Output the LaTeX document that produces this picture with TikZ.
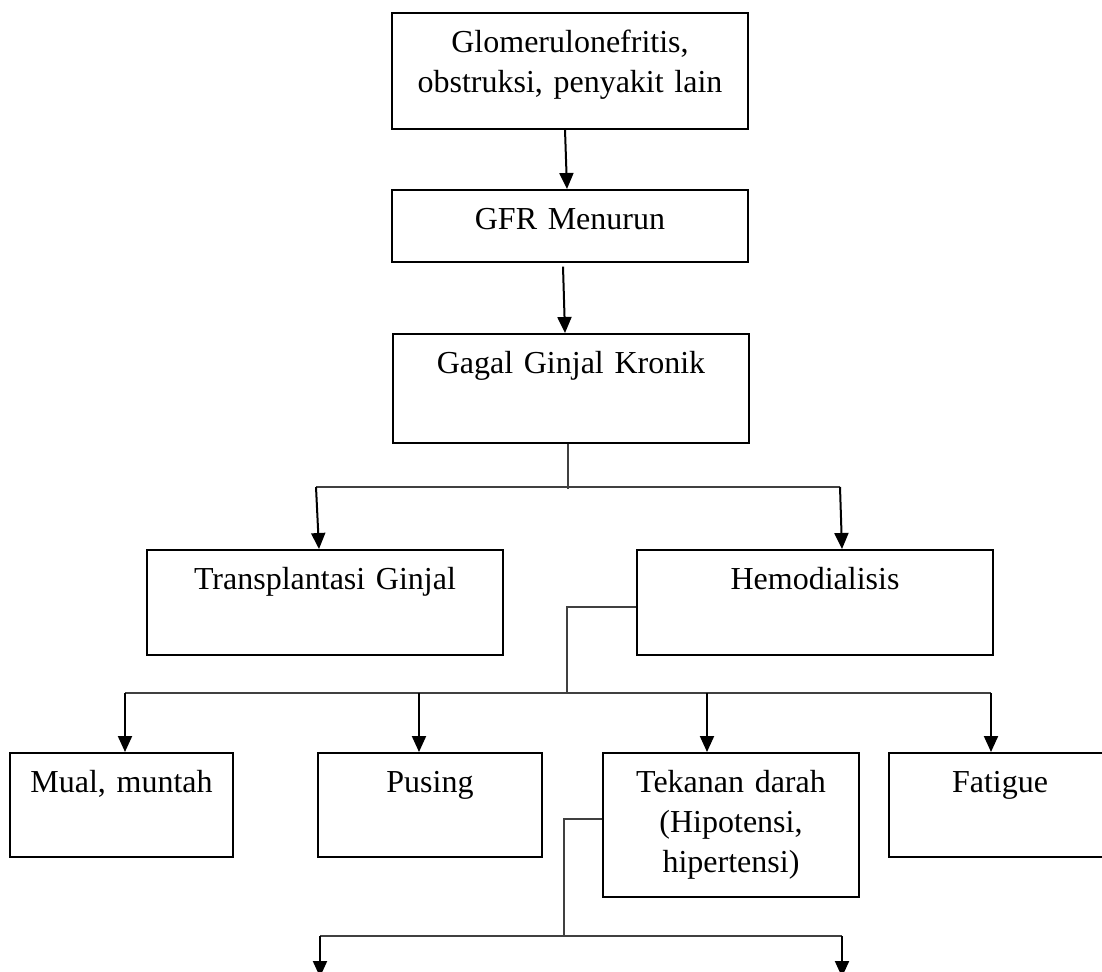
\documentclass[tikz,border=0pt]{standalone}
\usepackage{fontspec}
\setmainfont{Liberation Serif}
\usetikzlibrary{arrows.meta}

\begin{document}
\begin{tikzpicture}[x=0.5pt,y=-0.5pt,
  box/.style={draw,line width=0.8pt,inner sep=0pt,anchor=north,align=center,
    font=\fontsize{16}{20}\selectfont,text height=20pt},
  arr/.style={line width=1pt,-{Triangle[length=8pt,width=7pt]}},
  link/.style={line width=0.7pt,black!75}]
\useasboundingbox (0,0) rectangle (1102,971);
\node [box,text width=178pt,text depth=38pt] (glom) at (570,12) {Glomerulonefritis,\\ obstruksi, penyakit lain};
\node [box,text width=178pt,text depth=16pt] (gfr) at (570,189) {GFR Menurun};
\node [box,text width=178pt,text depth=34.5pt] (ggk) at (571,333) {Gagal Ginjal Kronik};
\node [box,text width=178pt,text depth=32.5pt] (trans) at (325,549) {Transplantasi Ginjal};
\node [box,text width=178pt,text depth=32.5pt] (hemo) at (815,549) {Hemodialisis};
\node [box,text width=111.5pt,text depth=32pt] (mual) at (121.5,752) {Mual, muntah};
\node [box,text width=112pt,text depth=32pt] (pusing) at (430,752) {Pusing};
\node [box,text width=128pt,text depth=52pt] (tekanan) at (731,752) {Tekanan darah\\ (Hipotensi,\\ hipertensi)};
\node [box,text width=111pt,text depth=32pt] (fatigue) at (1000,752) {Fatigue};

\draw[arr] ([shift={(-5,0)}]glom.south) -- ([shift={(-3,0)}]gfr.north);
\draw[arr] ([shift={(-7,4)}]gfr.south) -- ([shift={(-6,0)}]ggk.north);

\draw[link] ([shift={(-3,0)}]ggk.south) -- ++(0,45) coordinate (j1);
\draw[link] (316,487) coordinate (j1l) -- (840,487) coordinate (j1r);
\draw[arr] (j1l) -- ([shift={(-6,0)}]trans.north);
\draw[arr] (j1r) -- ([shift={(27,0)}]hemo.north);

\draw[link] ([shift={(0,4.5)}]hemo.west) -| (567,693) coordinate (j2);
\draw[link] (125,693) coordinate (j2a) -- (991,693) coordinate (j2d);
\coordinate (j2b) at (419,693);
\coordinate (j2c) at (707,693);
\draw[arr] (j2a) -- ([shift={(3.5,0)}]mual.north);
\draw[arr] (j2b) -- ([shift={(-11,0)}]pusing.north);
\draw[arr] (j2c) -- ([shift={(-24,0)}]tekanan.north);
\draw[arr] (j2d) -- ([shift={(-9,0)}]fatigue.north);

\draw[link] ([shift={(0,-6)}]tekanan.west) -| (564,936) coordinate (j3);
\draw[link] (320,936) coordinate (j3l) -- (842,936) coordinate (j3r);
\coordinate (e1) at (320,977);
\coordinate (e2) at (842,977);
\draw[arr] (j3l) -- (e1);
\draw[arr] (j3r) -- (e2);
\end{tikzpicture}
\end{document}
